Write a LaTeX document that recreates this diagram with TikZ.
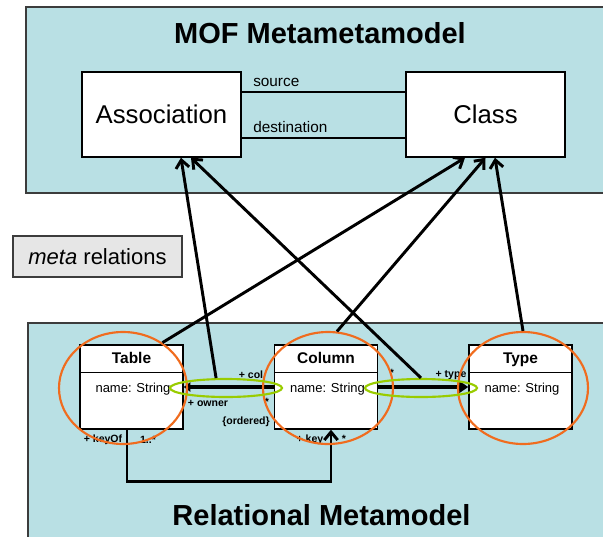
\documentclass[tikz,border=0pt]{standalone}
\usepackage{fontspec}
\setmainfont{Liberation Sans}
\usetikzlibrary{arrows.meta,shapes.geometric}

\definecolor{panelfill}{RGB}{185,224,228}
\definecolor{paneledge}{RGB}{60,60,60}
\definecolor{ringorange}{RGB}{240,108,30}
\definecolor{ringgreen}{RGB}{153,204,0}
\definecolor{notefill}{RGB}{230,230,230}

\begin{document}
\begin{tikzpicture}[x=0.75pt,y=-0.75pt,
  panel/.style={fill=panelfill,draw=paneledge,line width=1.1pt},
  paneltitle/.style={font=\fontsize{21.75pt}{24pt}\selectfont\bfseries,anchor=base,inner sep=0},
  mofbox/.style={draw=black,fill=white,line width=1.1pt,minimum width=119.25pt,
    minimum height=63.75pt,inner sep=0,font=\fontsize{19.3pt}{21pt}\selectfont},
  rolelabel/.style={font=\fontsize{11.5pt}{13pt}\selectfont,anchor=base west,inner sep=0},
  notebox/.style={draw=paneledge,fill=notefill,line width=1pt,minimum width=126.75pt,
    minimum height=30.75pt,inner sep=0,font=\fontsize{16.5pt}{18pt}\selectfont},
  umlbox/.style={draw=black,fill=white,line width=1.1pt,minimum width=77.25pt,
    minimum height=63pt,inner sep=0},
  umlhead/.style={font=\fontsize{11.6pt}{13pt}\selectfont\bfseries,anchor=base,inner sep=0},
  umlattr/.style={font=\fontsize{9.75pt}{11pt}\selectfont,anchor=base west,inner sep=0},
  endlabel/.style={font=\fontsize{7.9pt}{9pt}\selectfont\bfseries,inner sep=0},
  assocline/.style={line width=1.5pt},
  metaarrow/.style={line width=2.2pt,-{Straight Barb[length=6pt,width=10pt]}},
  navline/.style={line width=3pt},
  keyline/.style={line width=2.2pt,-{Straight Barb[length=6pt,width=10pt]}},
  orangering/.style={draw=ringorange,line width=1.6pt,ellipse,inner sep=0,
    minimum height=84pt},
  greenring/.style={draw=ringgreen,line width=1.6pt,ellipse,inner sep=0,
    minimum width=84pt,minimum height=13.5pt},
]
\useasboundingbox (0,0) rectangle (603,536);
\clip (0,0) rectangle (603,536);
\fill[white] (0,0) rectangle (603,536);

% the two package panels
\path[panel] (26,7) rectangle (620,193);
\path[panel] (28,323) rectangle (620,560);
\node[paneltitle] (moftitle) at (320,43) {MOF Metametamodel};
\node[paneltitle] (reltitle) at (321.5,525) {Relational Metamodel};

% MOF level
\node[mofbox] (assoc) at (161.5,114.5) {Association};
\node[mofbox] (class) at (485.5,114.5) {Class};
\draw[assocline] ([yshift=16.9pt]assoc.east) -- ([yshift=16.9pt]class.west);
\draw[assocline] ([yshift=-17.6pt]assoc.east) -- ([yshift=-17.6pt]class.west);
\node[rolelabel] (srclbl) at (253,86) {source};
\node[rolelabel] (dstlbl) at (253,132) {destination};

% legend note
\node[notebox] (note) at (97.5,256.5) {\textit{meta} relations};

% relational level classes
\foreach \nm/\cx/\title in {table/131.5/Table,column/326/Column,type/520.5/Type}{
  \node[umlbox] (\nm) at (\cx,387) {};
  \draw[line width=1.1pt] ([yshift=-21pt]\nm.north west) -- ([yshift=-21pt]\nm.north east);
  \node[umlhead] (\nm-head) at ([yshift=-14.25pt]\nm.north) {\title};
  \node[umlattr] (\nm-attr) at ([xshift=12pt,yshift=-36pt]\nm.north west) {name: String};
}

% associations between the relational classes
\draw[navline,-{Triangle[length=5pt,width=7pt]}] (column.west) -- (table.east);
\draw[navline,-{Triangle[length=7pt,width=9pt]}] (column.east) -- (type.west);
\draw[keyline] ([xshift=-3.4pt]table.south) -- ++(0,52) -| ([xshift=3.75pt]column.south);

% association end labels
\node[endlabel] (colrole) at (251,375) {+ col};
\node[endlabel] (ownrole) at (208,403) {+ owner};
\node[endlabel] (colmult) at (267,402) {*};
\node[endlabel] (ordered) at (246,422) {\{ordered\}};
\node[endlabel] (typemult) at (392,373) {*};
\node[endlabel] (typerole) at (451,375) {+ type};
\node[endlabel] (keyofrole) at (103,440) {+ keyOf};
\node[endlabel] (keyofmult) at (148,440) {1..*};
\node[endlabel] (keyrole) at (310,440) {+ key};
\node[endlabel] (keymult) at (344,439) {*};

% highlighted instances
\node[orangering,minimum width=96pt] (otable) at (123,388) {};
\node[orangering,minimum width=97.5pt] (ocolumn) at (328,388) {};
\node[orangering,minimum width=97.5pt] (otype) at (523,388) {};
\node[greenring] (gowner) at (226,388) {};
\node[greenring] (gtype) at (421,388) {};

% meta relations up to the MOF level
\draw[metaarrow] (otable.49) -- ([xshift=-15.4pt]class.south);
\draw[metaarrow] (ocolumn.81) -- ([xshift=0pt]class.south);
\draw[metaarrow] (otype.north) -- ([xshift=7.1pt]class.south);
\draw[metaarrow] (gowner.135) -- ([xshift=14.6pt]assoc.south);
\draw[metaarrow] (gtype.north) -- ([xshift=22.1pt]assoc.south);
\end{tikzpicture}
\end{document}
